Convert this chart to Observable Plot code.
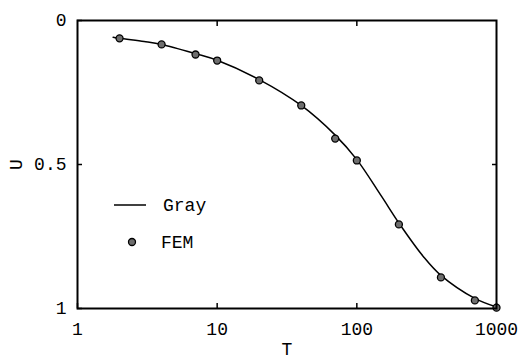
<!DOCTYPE html>
<html>
<head>
<meta charset="utf-8">
<script src="https://cdn.jsdelivr.net/npm/d3@7"></script>
<script src="https://cdn.jsdelivr.net/npm/@observablehq/plot@0.6"></script>
<style>
  html, body { margin: 0; padding: 0; background: white; }
  #wrap { position: relative; width: 526px; height: 358px; }
  #legend { position: absolute; left: 0; top: 0; width: 526px; height: 358px; pointer-events: none; }
</style>
</head>
<body>
<div id="wrap"></div>
<script>
// Gray (analytic) curve
const grayT = [1.8, 2, 3, 4, 7, 10, 20, 40, 70, 100, 150, 200, 300, 400, 700, 1000];
const grayU = [0.058, 0.062, 0.073, 0.083, 0.115, 0.138, 0.205, 0.295, 0.398, 0.483, 0.61, 0.703, 0.82, 0.885, 0.965, 0.995];
// FEM points
const femT = [2, 4, 7, 10, 20, 40, 70, 100, 200, 400, 700, 1000];
const femU = [0.062, 0.083, 0.118, 0.139, 0.208, 0.295, 0.41, 0.486, 0.708, 0.892, 0.972, 0.997];
// ticks
const xTicks = [1, 10, 100, 1000];
const xInnerTicks = [10, 100];
const yTicks = [0, 0.5, 1];
const yInnerTicks = [0.5];
const legendLabels = ["Gray", "FEM"];

const gray = grayT.map((t, i) => ({T: t, U: grayU[i]}));
const fem = femT.map((t, i) => ({T: t, U: femU[i]}));

const font = "'Liberation Mono', 'DejaVu Sans Mono', monospace";

const chart = Plot.plot({
  width: 526,
  height: 358,
  marginLeft: 77,
  marginRight: 30,
  marginTop: 20,
  marginBottom: 50,
  style: {fontFamily: font, fontSize: "18px", background: "white", color: "black", overflow: "visible"},
  x: {type: "log", domain: [1, 1000]},
  y: {domain: [0, 1], reverse: true},
  marks: [
    Plot.axisX({anchor: "bottom", ticks: xTicks, tickSize: -5, tickPadding: 19, strokeWidth: 1.5,
      tickFormat: d => String(d), label: "T", labelAnchor: "center", labelOffset: 46, labelArrow: "none"}),
    Plot.axisX({anchor: "top", ticks: xInnerTicks, tickSize: -5, strokeWidth: 1.5, tickFormat: () => "", label: null}),
    Plot.axisY({anchor: "left", ticks: yTicks, tickSize: -5, tickPadding: 16, strokeWidth: 1.5,
      tickFormat: d => String(d), label: "U", labelAnchor: "center", labelOffset: 68, labelArrow: "none"}),
    Plot.axisY({anchor: "right", ticks: yInnerTicks, tickSize: -5, strokeWidth: 1.5, tickFormat: () => "", label: null}),
    Plot.line(gray, {x: "T", y: "U", curve: "catmull-rom", stroke: "black", strokeWidth: 1.5}),
    Plot.dot(fem, {x: "T", y: "U", r: 3.5, fill: "#6e6e6e", stroke: "black", strokeWidth: 1.3}),
    Plot.frame({stroke: "black", strokeWidth: 2})
  ]
});

const wrap = document.getElementById("wrap");
wrap.appendChild(chart);

// legend overlay
const ns = "http://www.w3.org/2000/svg";
const leg = document.createElementNS(ns, "svg");
leg.setAttribute("id", "legend");
leg.setAttribute("width", 526);
leg.setAttribute("height", 358);
leg.innerHTML = `
  <line x1="114" x2="146" y1="205" y2="205" stroke="black" stroke-width="1.5"/>
  <text x="163" y="205" dy="0.35em" font-family="${font.replace(/'/g, "&quot;")}" font-size="18">${legendLabels[0]}</text>
  <circle cx="132" cy="242" r="3.5" fill="#6e6e6e" stroke="black" stroke-width="1.3"/>
  <text x="161" y="242" dy="0.35em" font-family="${font.replace(/'/g, "&quot;")}" font-size="18">${legendLabels[1]}</text>
`;
wrap.appendChild(leg);
</script>
</body>
</html>
